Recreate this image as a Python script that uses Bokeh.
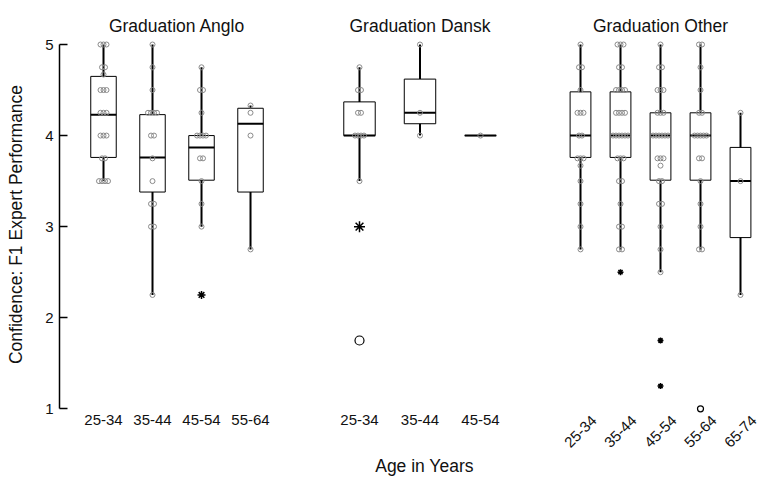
from math import pi
from bokeh.plotting import figure
from bokeh.layouts import row
from bokeh.models import ColumnDataSource, FixedTicker, Range1d
from bokeh.core.properties import value
from bokeh.embed import file_html
from bokeh.resources import INLINE

FONT = "Liberation Sans"

# ---------------- data ----------------
panel_titles = ["Graduation Anglo", "Graduation Dansk", "Graduation Other"]

anglo_ages = ["25-34", "35-44", "45-54", "55-64"]
anglo_q1 = [3.76, 3.38, 3.51, 3.38]
anglo_med = [4.23, 3.76, 3.87, 4.13]
anglo_q3 = [4.65, 4.23, 4.00, 4.30]
anglo_lo = [3.50, 2.25, 3.00, 2.75]
anglo_hi = [5.00, 5.00, 4.75, 4.33]
anglo_points = [
    [5, 5, 5, 4.75, 4.75, 4.67, 4.5, 4.5, 4.5, 4.25, 4.25, 4.25, 4, 4, 4, 3.75, 3.75, 3.5, 3.5, 3.5, 3.5],
    [5, 4.75, 4.5, 4.25, 4.25, 4.25, 4.25, 4, 4, 3.75, 3.5, 3.25, 3.25, 3, 3, 2.25],
    [4.75, 4.5, 4.5, 4.25, 4, 4, 4, 4, 3.75, 3.75, 3.5, 3.25, 3],
    [4.33, 4.25, 4, 2.75],
]
anglo_out_age = ["45-54"]
anglo_out_val = [2.25]
anglo_out_kind = ["star"]

dansk_ages = ["25-34", "35-44", "45-54"]
dansk_q1 = [4.00, 4.13, 4.00]
dansk_med = [4.00, 4.25, 4.00]
dansk_q3 = [4.37, 4.62, 4.00]
dansk_lo = [3.50, 4.00, 4.00]
dansk_hi = [4.75, 5.00, 4.00]
dansk_points = [
    [4.75, 4.5, 4.5, 4.25, 4.25, 4, 4, 4, 4, 3.5],
    [5, 4.25, 4],
    [4],
]
dansk_out_age = ["25-34", "25-34"]
dansk_out_val = [3.0, 1.75]
dansk_out_kind = ["star", "circle"]

other_ages = ["25-34", "35-44", "45-54", "55-64", "65-74"]
other_q1 = [3.76, 3.76, 3.51, 3.51, 2.88]
other_med = [4.00, 4.00, 4.00, 4.00, 3.50]
other_q3 = [4.48, 4.48, 4.25, 4.25, 3.87]
other_lo = [2.75, 2.75, 2.50, 2.75, 2.25]
other_hi = [5.00, 5.00, 5.00, 5.00, 4.25]
other_points = [
    [5, 4.75, 4.75, 4.5, 4.25, 4.25, 4.25, 4, 4, 3.75, 3.75, 3.75, 3.67, 3.5, 3.25, 3, 2.75],
    [5, 5, 5, 4.75, 4.75, 4.5, 4.5, 4.5, 4.5, 4.25, 4.25, 4.25, 4.25, 4, 4, 4, 4, 4, 4,
     3.75, 3.75, 3.75, 3.5, 3.5, 3.25, 3, 3, 2.75, 2.75],
    [5, 4.75, 4.75, 4.5, 4.5, 4.5, 4.25, 4.25, 4.25, 4, 4, 4, 4, 4, 4, 3.75, 3.75, 3.75,
     3.67, 3.5, 3.5, 3.25, 3.25, 3, 2.75, 2.5],
    [5, 5, 4.75, 4.5, 4.25, 4.25, 4, 4, 4, 4, 4, 3.75, 3.75, 3.5, 3.25, 3, 2.75, 2.75],
    [4.25, 3.5, 2.25],
]
other_out_age = ["35-44", "45-54", "45-54", "55-64"]
other_out_val = [2.5, 1.75, 1.25, 1.0]
other_out_kind = ["star", "star", "star", "circle"]

y_ticks = [1, 2, 3, 4, 5]
y_title = "Confidence: F1 Expert Performance"
x_title = "Age in Years"

# ---------------- layout constants ----------------
H = 478
BORDER_BOTTOM = 30
FRAME_H = H - BORDER_BOTTOM
PX5, PX1 = 44.0, 408.3            # pixel rows of values 5 and 1
SCALE = (PX1 - PX5) / 4.0          # pixels per unit
Y_TOP = 5 + PX5 / SCALE
BOX_W = 0.52
TITLE_SIZE = "17.5px"
TICK_SIZE = "15px"


def ypx(px):
    """data y for a pixel row (layout helper for texts)"""
    return Y_TOP - px / SCALE


def make_panel(title, ages, q1, med, q3, lo, hi, points, out_age, out_val, out_kind,
               width, border_left, xr, rotate=False, first=False, star_size=9,
               circ_size=8, xlabel=False):
    n = len(ages)
    p = figure(width=width, height=H, output_backend="svg", toolbar_location=None,
               x_range=Range1d(*xr), y_range=Range1d(ypx(FRAME_H), Y_TOP),
               min_border_left=border_left, min_border_right=0,
               min_border_top=0, min_border_bottom=BORDER_BOTTOM,
               x_axis_location="below" if xlabel else None,
               y_axis_location="left" if first else None,
               background_fill_color="white", border_fill_color="white")
    p.outline_line_color = None
    p.grid.visible = False
    px_per_unit = (width - border_left) / (xr[1] - xr[0])

    xs = list(range(1, n + 1))
    src = ColumnDataSource(dict(
        x=xs, left=[x - BOX_W / 2 for x in xs], right=[x + BOX_W / 2 for x in xs],
        q1=q1, med=med, q3=q3, lo=lo, hi=hi, age=ages))
    p.segment(x0="x", y0="lo", x1="x", y1="hi", source=src, line_color="black", line_width=2)
    p.quad(left="left", right="right", bottom="q1", top="q3", source=src,
           fill_color="white", line_color="black", line_width=1)
    p.segment(x0="left", y0="med", x1="right", y1="med", source=src,
              line_color="black", line_width=2)

    # responses, equal values spread side by side
    jx, jy = [], []
    for i, vals in enumerate(points):
        groups = {}
        for v in vals:
            groups[v] = groups.get(v, 0) + 1
        for v, k in groups.items():
            for j in range(k):
                jx.append(xs[i] + (j - (k - 1) / 2) * 3.0 / px_per_unit)
                jy.append(v)
    p.scatter(x=jx, y=jy, marker="circle", size=5, fill_color=None,
              line_color="#8a8a8a", line_width=1)

    # outliers
    idx = {a: i + 1 for i, a in enumerate(ages)}
    sx = [idx[a] for a, k in zip(out_age, out_kind) if k == "star"]
    sy = [v for v, k in zip(out_val, out_kind) if k == "star"]
    cx = [idx[a] for a, k in zip(out_age, out_kind) if k == "circle"]
    cy = [v for v, k in zip(out_val, out_kind) if k == "circle"]
    if sx:
        p.scatter(x=sx, y=sy, marker="asterisk", size=star_size, line_color="black", line_width=1.5)
    if cx:
        p.scatter(x=cx, y=cy, marker="circle", size=circ_size, fill_color=None,
                  line_color="black", line_width=1.2)

    # panel title
    p.text(x=[(n + 1) / 2], y=[ypx(25)], text=[title], text_align="center",
           text_baseline="alphabetic", text_font=value(FONT), text_font_size=TITLE_SIZE,
           text_color="#111111")

    # category labels
    lsrc = ColumnDataSource(dict(x=xs, y=[ypx(431 if rotate else 419)] * n, t=ages))
    p.text(x="x", y="y", text="t", source=lsrc, angle=pi / 4 if rotate else 0,
           text_align="center", text_baseline="middle",
           text_font=value(FONT), text_font_size=TICK_SIZE, text_color="#111111")

    if first:
        ax = p.yaxis[0]
        ax.ticker = FixedTicker(ticks=y_ticks)
        ax.bounds = (1, 5)
        ax.major_tick_in = 8
        ax.major_tick_out = 0
        ax.minor_tick_line_color = None
        ax.axis_line_width = 1.5
        ax.major_tick_line_width = 1.5
        ax.major_label_standoff = 6
        ax.major_label_text_font = FONT
        ax.major_label_text_font_size = TICK_SIZE
        ax.major_label_text_color = "#111111"
        ax.axis_label = y_title
        ax.axis_label_standoff = 16
        ax.axis_label_text_font = FONT
        ax.axis_label_text_font_size = TITLE_SIZE
        ax.axis_label_text_font_style = "normal"
        ax.axis_label_text_color = "#111111"

    if xlabel:
        ax = p.xaxis[0]
        ax.ticker = FixedTicker(ticks=[])
        ax.axis_line_color = None
        ax.major_tick_line_color = None
        ax.minor_tick_line_color = None
        ax.major_tick_in = 0
        ax.major_tick_out = 0
        ax.major_label_standoff = 0
        ax.axis_label = x_title
        ax.axis_label_standoff = 7
        ax.axis_label_text_font = FONT
        ax.axis_label_text_font_size = TITLE_SIZE
        ax.axis_label_text_font_style = "normal"
        ax.axis_label_text_color = "#111111"
    return p


p1 = make_panel(panel_titles[0], anglo_ages, anglo_q1, anglo_med, anglo_q3, anglo_lo, anglo_hi,
                anglo_points, anglo_out_age, anglo_out_val, anglo_out_kind,
                width=300, border_left=59, xr=(0.102, 5.02), first=True, star_size=8)
p2 = make_panel(panel_titles[1], dansk_ages, dansk_q1, dansk_med, dansk_q3, dansk_lo, dansk_hi,
                dansk_points, dansk_out_age, dansk_out_val, dansk_out_kind,
                width=248, border_left=0, xr=(0.0248, 4.124), star_size=11, circ_size=9,
                xlabel=True)
p3 = make_panel(panel_titles[2], other_ages, other_q1, other_med, other_q3, other_lo, other_hi,
                other_points, other_out_age, other_out_val, other_out_kind,
                width=211, border_left=0, xr=(0.2, 5.475), rotate=True, star_size=6,
                circ_size=6)

layout = row(p1, p2, p3, spacing=0)
open("out.html", "w").write(file_html(layout, INLINE))
